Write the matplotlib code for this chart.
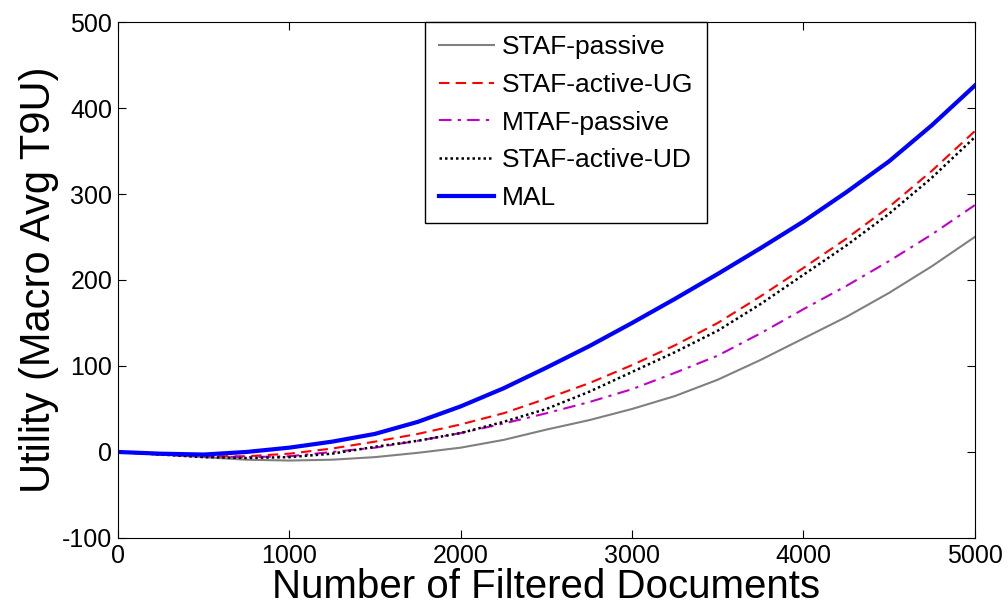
import matplotlib
matplotlib.use('Agg')
import matplotlib.pyplot as plt

plt.rcParams['font.family'] = ['Liberation Sans', 'DejaVu Sans']
plt.rcParams['axes.unicode_minus'] = False

docs = [0, 250, 500, 750, 1000, 1250, 1500, 1750, 2000, 2250, 2500,
        2750, 3000, 3250, 3500, 3750, 4000, 4250, 4500, 4750, 5000]

staf_passive = [0, -3, -6, -9, -10, -9, -6, -1, 5, 14, 26,
                37, 50, 65, 84, 107, 132, 157, 185, 216, 250]
staf_active_ug = [0, -3, -5, -5, -2, 4, 12, 21, 32, 45, 62,
                  80, 101, 124, 150, 181, 214, 248, 285, 327, 373]
mtaf_passive = [0, -3, -5, -6, -5, 0, 5, 13, 22, 33, 45,
                58, 73, 92, 112, 138, 166, 193, 222, 253, 287]
staf_active_ud = [0, -3, -6, -7, -6, -2, 6, 13, 22, 35, 50,
                  70, 93, 116, 141, 172, 206, 240, 277, 319, 366]
mal = [0, -2, -3, 0, 5, 12, 21, 35, 53, 74, 98,
       123, 150, 178, 207, 237, 268, 302, 338, 380, 426]

fig = plt.figure(figsize=(10.08, 6.12), dpi=100)
ax = fig.add_axes([0.117, 0.121, 0.850, 0.843])

ax.plot(docs, staf_passive, color='#808080', lw=1.5, label='STAF-passive')
ax.plot(docs, staf_active_ug, color='red', lw=1.5, ls=(0, (5, 3)), label='STAF-active-UG')
ax.plot(docs, mtaf_passive, color='#c000c8', lw=1.5, ls=(0, (6, 3, 1.5, 3)), label='MTAF-passive')
ax.plot(docs, staf_active_ud, color='black', lw=1.8, ls=(0, (1, 1.2)), label='STAF-active-UD')
ax.plot(docs, mal, color='#0000ff', lw=3, label='MAL')

ax.set_xlim(0, 5000)
ax.set_ylim(-100, 500)
ax.set_xticks([0, 1000, 2000, 3000, 4000, 5000])
ax.set_yticks([-100, 0, 100, 200, 300, 400, 500])
ax.tick_params(direction='in', top=True, right=True, labelsize=18, length=6, pad=4)
ax.set_xlabel('Number of Filtered Documents', fontsize=29, labelpad=0)
ax.set_ylabel('Utility (Macro Avg T9U)', fontsize=30, labelpad=2)

leg = ax.legend(loc='upper center', bbox_to_anchor=(0.523, 1.0), borderaxespad=0,
                fontsize=19, fancybox=False, framealpha=1, edgecolor='black',
                handlelength=2.1, labelspacing=0.52, handletextpad=0.3,
                borderpad=0.5)
leg.get_frame().set_linewidth(1.0)

fig.savefig('out.png', dpi=100)
